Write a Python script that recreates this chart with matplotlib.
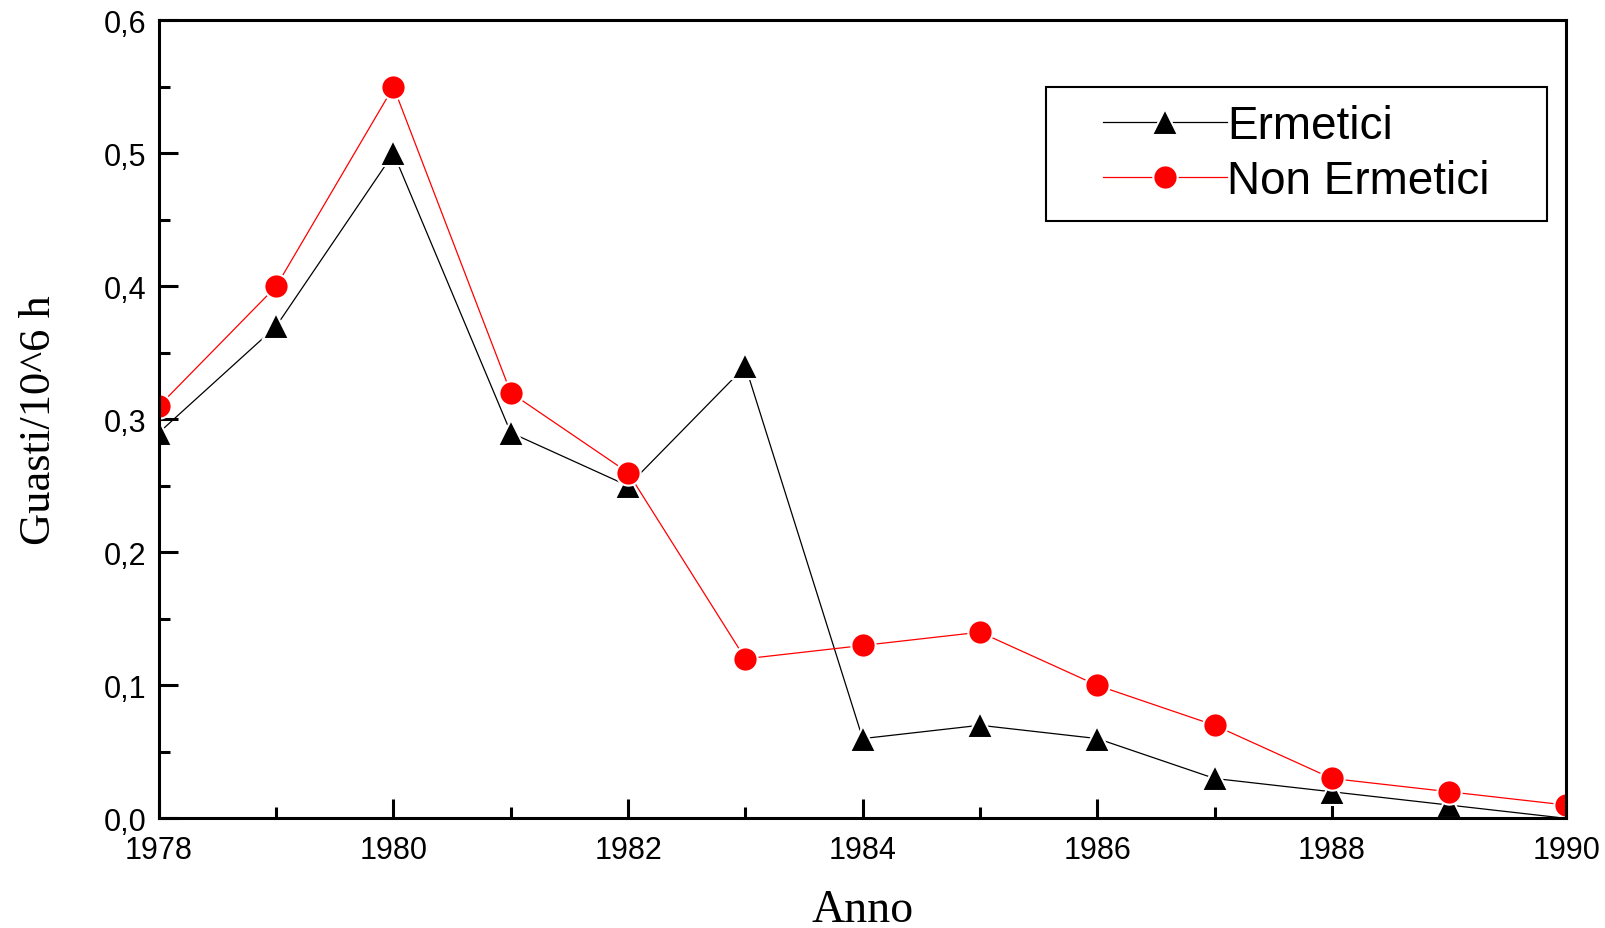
import matplotlib
matplotlib.use("Agg")
import matplotlib.pyplot as plt
from matplotlib.patches import Rectangle
from matplotlib.ticker import MultipleLocator, FuncFormatter

# ---------- Data ----------
anni = [1978, 1979, 1980, 1981, 1982, 1983, 1984, 1985, 1986, 1987, 1988, 1989, 1990]
ermetici = [0.29, 0.37, 0.50, 0.29, 0.25, 0.34, 0.06, 0.07, 0.06, 0.03, 0.02, 0.01, 0.00]
non_ermetici = [0.31, 0.40, 0.55, 0.32, 0.26, 0.12, 0.13, 0.14, 0.10, 0.07, 0.03, 0.02, 0.01]

sans = ["Liberation Sans", "DejaVu Sans"]
serif = ["Liberation Serif", "DejaVu Serif"]
plt.rcParams["font.family"] = sans

fig = plt.figure(figsize=(16.05, 9.29), dpi=100)
ax = fig.add_axes([0.099, 0.118, 0.877, 0.859])

ax.plot(anni, ermetici, color="black", lw=0.9, marker="^", ms=19,
        markerfacecolor="black", markeredgecolor="white", mew=1.5, label="Ermetici")
ax.plot(anni, non_ermetici, color="red", lw=0.9, marker="o", ms=17.5,
        markerfacecolor="red", markeredgecolor="white", mew=1.5, label="Non Ermetici")

ax.set_xlim(1978, 1990)
ax.set_ylim(0, 0.6)
ax.xaxis.set_major_locator(MultipleLocator(2))
ax.xaxis.set_minor_locator(MultipleLocator(1))
ax.yaxis.set_major_locator(MultipleLocator(0.1))
ax.yaxis.set_minor_locator(MultipleLocator(0.05))
ax.yaxis.set_major_formatter(FuncFormatter(lambda v, p: f"{v:.1f}".replace(".", ",")))
ax.xaxis.set_major_formatter(FuncFormatter(lambda v, p: f"{int(round(v))}"))

ax.tick_params(which="both", direction="in", top=False, right=False, width=2.2)
ax.tick_params(which="major", length=14, labelsize=22)
ax.tick_params(axis="x", which="major", pad=12)
ax.tick_params(axis="y", which="major", pad=9)
ax.tick_params(which="minor", length=8)
for s in ax.spines.values():
    s.set_linewidth(2.2)

ax.set_xlabel("Anno", fontsize=33, family=serif, labelpad=17)
ax.set_ylabel("Guasti/10^6 h", fontsize=32, family=serif, labelpad=32)

# legend without frame; frame drawn around it with extra side padding
hpad = 40  # px
leg = ax.legend(loc="upper right", bbox_to_anchor=(0.986 - hpad / 1407, 0.917),
                borderaxespad=0, frameon=False,
                handlelength=2.7, handletextpad=0.0, borderpad=0.38,
                labelspacing=0.25, prop={"family": "Liberation Sans", "size": 33})
fig.canvas.draw()
bb = leg.get_window_extent()
fig.patches.append(Rectangle((bb.x0 - hpad, bb.y0), bb.width + 2 * hpad, bb.height,
                             transform=None, fill=False, edgecolor="black",
                             linewidth=1.5, zorder=5))

fig.savefig("out.png", dpi=100)
